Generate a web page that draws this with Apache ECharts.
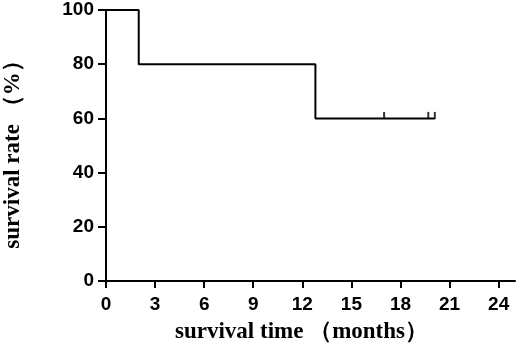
<!DOCTYPE html>
<html>
<head>
<meta charset="utf-8">
<script src="https://cdn.jsdelivr.net/npm/echarts@6/dist/echarts.min.js"></script>
<style>html,body{margin:0;padding:0;background:#fff}#c{width:520px;height:345px}</style>
</head>
<body>
<div id="c"></div>
<script>
// Kaplan–Meier steps (time in months, survival %)
var stepTimes = [0, 2, 12.8, 20.1];
var stepRates = [100, 80, 60, 60];
// Censored observations
var censorTimes = [17, 19.7, 20.1];
var censorRates = [60, 60, 60];
// Axis ticks
var xTicks = [0, 3, 6, 9, 12, 15, 18, 21, 24];
var yTicks = [0, 20, 40, 60, 80, 100];
var xTitle = 'survival time （months）';
var yTitle = 'survival rate （%）';

var chart = echarts.init(document.getElementById('c'), null, {renderer: 'canvas'});
var labelFont = {color: '#000', fontFamily: 'Liberation Sans, Arial', fontWeight: 'bold', fontSize: 19};
var titleFont = {color: '#000', fontFamily: 'Liberation Serif, Times New Roman', fontWeight: 'bold', fontSize: 23};
chart.setOption({
  animation: false,
  grid: {left: 106, right: 5, top: 10, bottom: 64, containLabel: false, outerBoundsMode: 'none'},
  xAxis: {
    type: 'value', min: 0, max: 25,
    name: xTitle, nameLocation: 'middle', nameGap: 40,
    nameTextStyle: Object.assign({padding: [0, 18, 0, 0]}, titleFont),
    axisLine: {lineStyle: {color: '#000', width: 2}},
    axisTick: {show: true, length: 7, lineStyle: {color: '#000', width: 2}, customValues: xTicks},
    axisLabel: Object.assign({margin: 14, customValues: xTicks}, labelFont),
    splitLine: {show: false}
  },
  yAxis: {
    type: 'value', min: 0, max: 100, interval: 20,
    name: yTitle, nameLocation: 'middle', nameGap: 81,
    nameTextStyle: Object.assign({padding: [0, 7, 0, 0]}, titleFont),
    axisLine: {show: true, lineStyle: {color: '#000', width: 2}},
    axisTick: {show: true, length: 8, lineStyle: {color: '#000', width: 2}},
    axisLabel: Object.assign({margin: 12, customValues: yTicks}, labelFont),
    splitLine: {show: false}
  },
  series: [
    {
      type: 'line', step: 'end', symbol: 'none',
      lineStyle: {color: '#000', width: 2},
      data: stepTimes.map(function (t, i) { return [t, stepRates[i]]; })
    },
    {
      type: 'scatter',
      symbol: 'rect', symbolSize: [2, 7], symbolOffset: [0, -3],
      itemStyle: {color: '#000'},
      data: censorTimes.map(function (t, i) { return [t, censorRates[i]]; })
    }
  ]
});
</script>
</body>
</html>
